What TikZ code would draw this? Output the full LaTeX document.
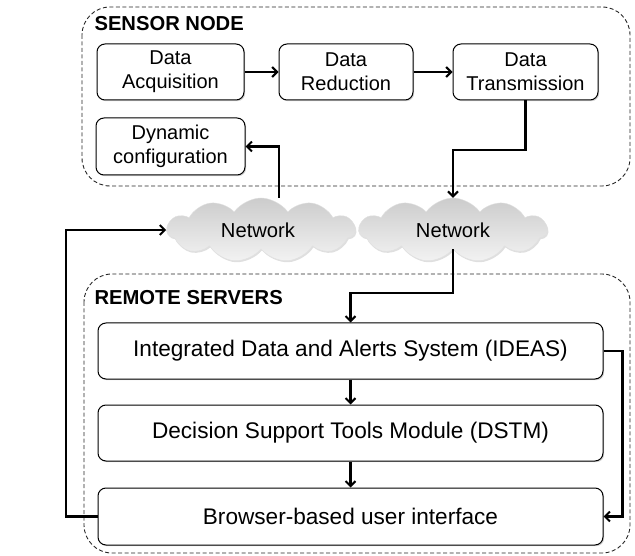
\documentclass[tikz,border=0pt]{standalone}
\usepackage{fontspec}
\setmainfont{Liberation Sans}
\usetikzlibrary{arrows.meta,shapes.symbols,shadows,calc}

\tikzset{
  stagebox/.style={draw=black, line width=1pt, rounded corners=8pt, fill=white,
    align=center, inner sep=2pt,
    drop shadow={opacity=0.35, shadow xshift=1.2pt, shadow yshift=-1.2pt}},
  smallbox/.style={stagebox, font=\fontsize{20}{24}\selectfont},
  widebox/.style={stagebox, font=\fontsize{22.6}{27}\selectfont,
    minimum width=505pt, minimum height=56pt},
  group/.style={draw=black!85, line width=0.9pt, dash pattern=on 4pt off 2.5pt,
    rounded corners=28pt},
  grouptitle/.style={font=\bfseries\fontsize{20.2}{24}\selectfont, anchor=west},
  netcloud/.style={cloud, cloud puffs=11, cloud puff arc=110, aspect=2.9,
    minimum width=188pt, minimum height=64pt, inner sep=0pt,
    top color=black!20, bottom color=black!5, draw=black!12, line width=0.4pt,
    drop shadow={opacity=0.25, shadow xshift=1pt, shadow yshift=-1.5pt},
    font=\fontsize{20.2}{24}\selectfont},
  flow/.style={line width=2.2pt, -{Straight Barb[length=5pt,width=10pt,line width=2pt]}},
}

\begin{document}
\begin{tikzpicture}[x=1pt,y=-1pt]
  \useasboundingbox (0,0) rectangle (635,556);

  % group frames
  \draw[group] (82,7) rectangle (630,186);
  \draw[group] (84,274) rectangle (630,553);
  \node[grouptitle] (sntitle) at (91,24) {SENSOR NODE};
  \node[grouptitle] (rstitle) at (91,298) {REMOTE SERVERS};

  % sensor node stages
  \node[smallbox, minimum width=147pt, minimum height=56pt] (acq) at (170.5,72) {Data\\Acquisition};
  \node[smallbox, minimum width=134pt, minimum height=56pt] (red) at (346,72) {Data\\Reduction};
  \node[smallbox, minimum width=145pt, minimum height=56pt] (trans) at (525.5,72) {Data\\Transmission};
  \node[smallbox, minimum width=149pt, minimum height=57pt] (dyn) at (170.5,146.5) {Dynamic\\configuration};

  % networks
  \node[netcloud] (net1) at (261,230) {\hspace*{-6pt}Network};
  \node[netcloud] (net2) at (453,230) {\raisebox{-3pt}{Network}};

  % remote server modules
  \node[widebox] (ideas) at (350.5,351) {Integrated Data and Alerts System (IDEAS)};
  \node[widebox] (dstm) at (350.5,433) {Decision Support Tools Module (DSTM)};
  \node[widebox, minimum height=57pt] (ui) at (350.5,516.5) {Browser-based user interface};

  % connectors
  \draw[flow] (acq.east) -- (red.west);
  \draw[flow] (red.east) -- (trans.west);
  \draw[flow] (trans.south) -- (trans.south |- 0,150) -| (net2.north);
  \coordinate (up1) at (279,198);
  \draw[flow] (up1) |- (dyn.east);
  \draw[flow] (net2.south) -- (net2.south |- 0,293) -| (ideas.north);
  \draw[flow] (ideas.south) -- (dstm.north);
  \draw[flow] (dstm.south) -- (ui.north);
  \draw[flow] (ideas.east) -- ++(19,0) |- (ui.east);
  \coordinate (fb) at (66,0);
  \draw[flow] (ui.west) -- (ui.west -| fb) |- (net1.west);
\end{tikzpicture}
\end{document}
